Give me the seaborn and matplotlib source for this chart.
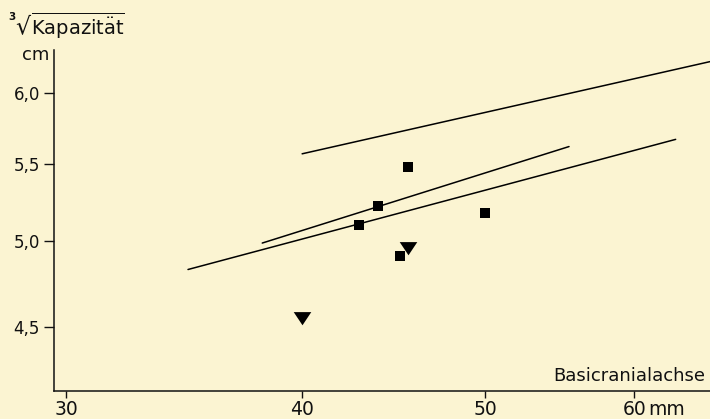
import numpy as np
import pandas as pd
import matplotlib
matplotlib.use("Agg")
import matplotlib.pyplot as plt
from matplotlib.ticker import FixedLocator, FixedFormatter, NullLocator
import seaborn as sns

# squares and triangles (Basicranialachse in mm, cube root of capacity in cm)
sq_x = [45.5, 43.9, 42.9, 50.0, 45.1]
sq_y = [5.48, 5.22, 5.10, 5.18, 4.91]
tri_x = [40.0, 45.5]
tri_y = [4.56, 4.97]

# regression lines (endpoints)
line_a_x = [40.0, 65.8]
line_a_y = [5.57, 6.24]
line_b_x = [38.1, 55.4]
line_b_y = [4.99, 5.62]
line_c_x = [34.8, 63.1]
line_c_y = [4.83, 5.67]

x_ticks = [30, 40, 50, 60]
x_ticklabels = ["30", "40", "50", "60"]
y_ticks = [4.5, 5.0, 5.5, 6.0]
y_ticklabels = ["4,5", "5,0", "5,5", "6,0"]

bg = "#fbf4d2"
ink = "#111111"
sns.set_style("ticks")
plt.rcParams["font.family"] = ["DejaVu Sans"]
plt.rcParams["mathtext.fontset"] = "dejavusans"

lines = pd.DataFrame({
    "x": line_a_x + line_b_x + line_c_x,
    "y": line_a_y + line_b_y + line_c_y,
    "line": ["a"] * 2 + ["b"] * 2 + ["c"] * 2,
})

fig = plt.figure(figsize=(7.1, 4.19), dpi=100, facecolor=bg)
ax = fig.add_axes([54 / 710, 1 - 390.7 / 419, 656 / 710, 340.7 / 419])
ax.set_facecolor(bg)

sns.lineplot(data=lines, x="x", y="y", units="line", estimator=None,
             color="black", linewidth=1.1, ax=ax, legend=False)
sns.scatterplot(x=sq_x, y=sq_y, marker="s", s=62, color="black",
                edgecolor="black", linewidth=0, ax=ax, zorder=3)
tri = [(-1, 0.5), (1, 0.5), (0, -1.0)]
sns.scatterplot(x=tri_x, y=tri_y, marker=tri, s=160, color="black",
                edgecolor="black", linewidth=0, ax=ax, zorder=3)

ax.set_xscale("log")
ax.set_yscale("log")
ax.set_xlim(29.55, 65.8)
ax.set_ylim(4.16, 6.33)

ax.xaxis.set_major_locator(FixedLocator(x_ticks))
ax.xaxis.set_major_formatter(FixedFormatter(x_ticklabels))
ax.xaxis.set_minor_locator(NullLocator())
ax.yaxis.set_major_locator(FixedLocator(y_ticks))
ax.yaxis.set_major_formatter(FixedFormatter(y_ticklabels))
ax.yaxis.set_minor_locator(NullLocator())

ax.tick_params(axis="x", direction="out", length=5, width=1, pad=2,
               labelsize=13.5, colors=ink)
ax.tick_params(axis="y", direction="out", length=7, width=1, pad=3,
               labelsize=12, colors=ink)
for side in ["top", "right"]:
    ax.spines[side].set_visible(False)
for side in ["left", "bottom"]:
    ax.spines[side].set_linewidth(1.1)
    ax.spines[side].set_color(ink)
ax.set_xlabel("")
ax.set_ylabel("")

ax.annotate("mm", xy=(60, 0), xycoords=ax.get_xaxis_transform(),
            xytext=(10, -7), textcoords="offset points",
            ha="left", va="top", fontsize=13.5, color=ink)

fig.text(705 / 710, 1 - 381 / 419, "Basicranialachse", ha="right",
         va="baseline", fontsize=13, color=ink)

# cube-root title: small index, radical sign, overlined word
fig.text(8 / 710, 1 - 12 / 419, "3", ha="left", va="top",
         fontsize=7.5, fontweight="bold", color=ink)
fig.text(15 / 710, 1 - 33 / 419, "\u221a", ha="left", va="baseline",
         fontsize=17, color=ink)
fig.text(31 / 710, 1 - 35 / 419, r"$\overline{\mathrm{Kapazit\"at}}$",
         ha="left", va="baseline", fontsize=14, color=ink)
fig.text(49 / 710, 1 - 60 / 419, "cm", ha="right", va="baseline",
         fontsize=13, color=ink)

fig.savefig("out.png", dpi=100, facecolor=bg)
